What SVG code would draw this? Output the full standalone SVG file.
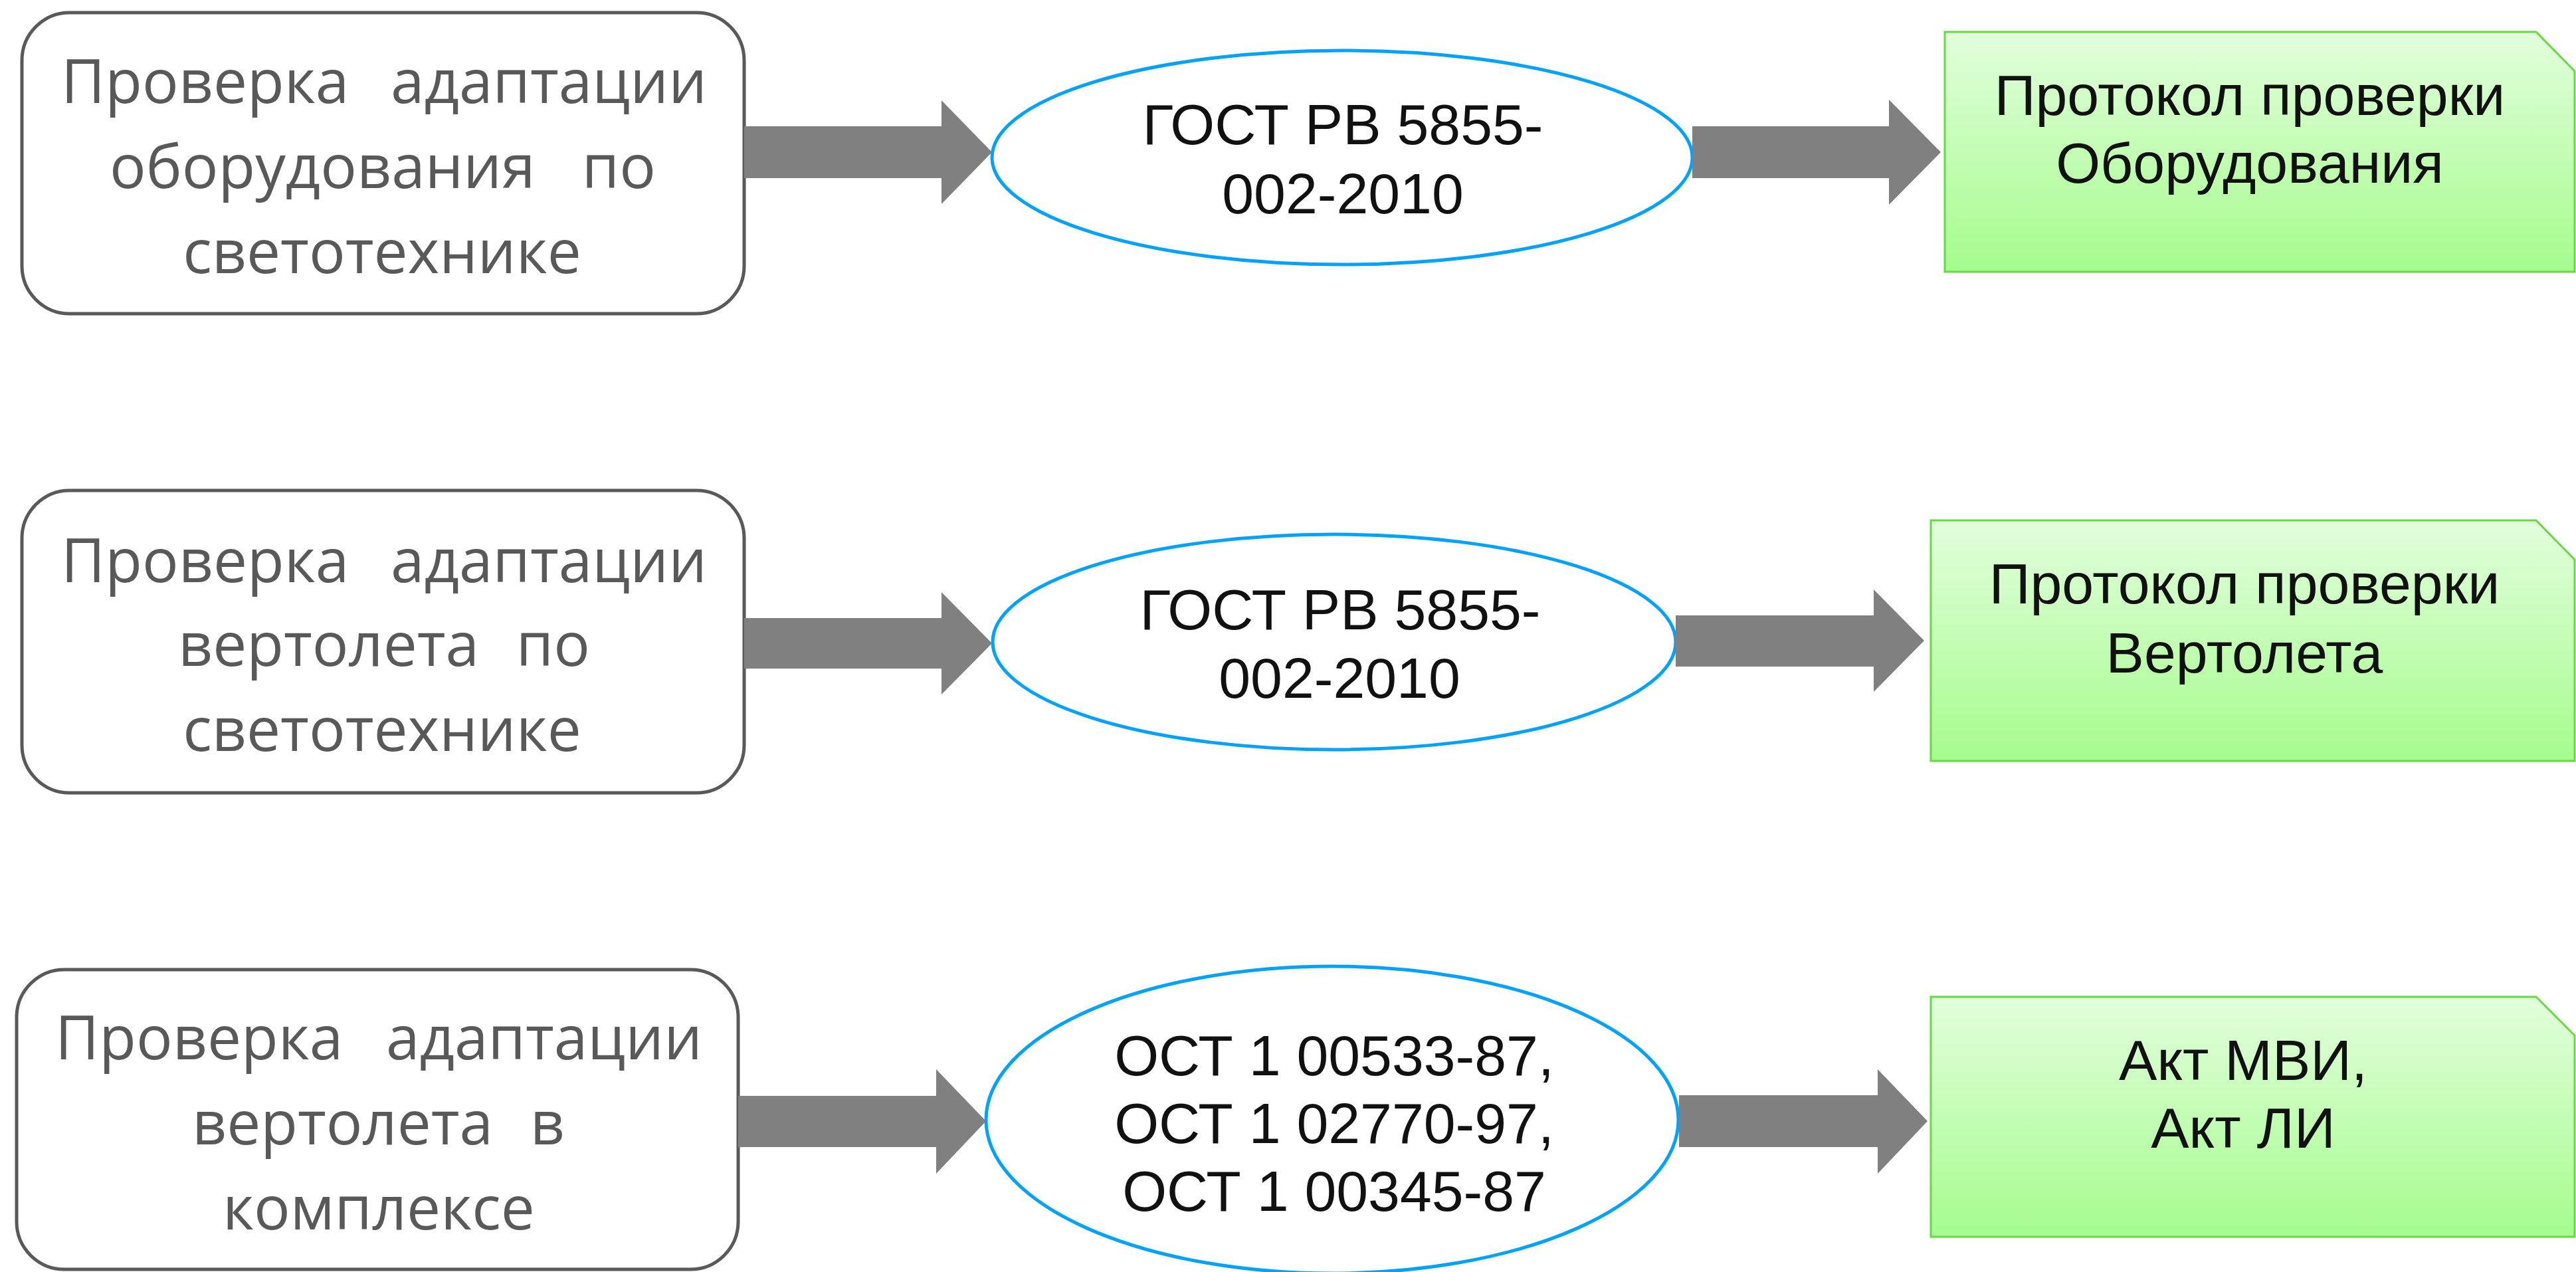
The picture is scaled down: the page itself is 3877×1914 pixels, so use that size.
<svg xmlns="http://www.w3.org/2000/svg" width="3877" height="1914" viewBox="0 0 3877 1914">
<defs>
<linearGradient id="g" x1="0" y1="0" x2="0" y2="1">
<stop offset="0" stop-color="#e2fedc"/>
<stop offset="1" stop-color="#a5fc8d"/>
</linearGradient>
</defs>
<style>
.box{fill:#ffffff;stroke:#595959;stroke-width:5}
.ell{fill:#ffffff;stroke:#00a2ff;stroke-width:5}
.doc{fill:url(#g);stroke:#66d944;stroke-width:3}
.arr{fill:#808080;stroke:none}
.lt{font-family:"Open Sans","DejaVu Sans",sans-serif;font-size:91px;fill:#595959}
.rt{font-family:"Liberation Sans",Arial,sans-serif;font-size:86px;fill:#111111;text-anchor:middle}
.s{text-anchor:start}.e{text-anchor:end}.m{text-anchor:middle}
</style>
<rect width="3877" height="1914" fill="#ffffff"/>

<g id="box1">
<rect class="box" x="33" y="19" width="1087" height="453" rx="72" ry="72"/>
<text class="lt s" x="92" y="155">Проверка</text>
<text class="lt e" x="1064" y="155">адаптации</text>
<text class="lt s" x="165" y="283">оборудования</text>
<text class="lt e" x="987" y="283">по</text>
<text class="lt m" x="575" y="411">светотехнике</text>
</g>
<g id="box2">
<rect class="box" x="33" y="738" width="1087" height="455" rx="72" ry="72"/>
<text class="lt s" x="92" y="876">Проверка</text>
<text class="lt e" x="1064" y="876">адаптации</text>
<text class="lt s" x="268" y="1002">вертолета</text>
<text class="lt e" x="888" y="1002">по</text>
<text class="lt m" x="575" y="1130">светотехнике</text>
</g>
<g id="box3">
<rect class="box" x="25" y="1459" width="1086" height="451" rx="72" ry="72"/>
<text class="lt s" x="83" y="1594">Проверка</text>
<text class="lt e" x="1057" y="1594">адаптации</text>
<text class="lt s" x="289" y="1722">вертолета</text>
<text class="lt e" x="850" y="1722">в</text>
<text class="lt m" x="570" y="1850">комплексе</text>
</g>

<g id="std1">
<ellipse class="ell" cx="2020" cy="237" rx="527" ry="161"/>
<text class="rt" x="2021" y="217">ГОСТ РВ 5855-</text>
<text class="rt" x="2021" y="321">002-2010</text>
</g>
<g id="std2">
<ellipse class="ell" cx="2008" cy="966" rx="514" ry="162"/>
<text class="rt" x="2017" y="947">ГОСТ РВ 5855-</text>
<text class="rt" x="2016" y="1050">002-2010</text>
</g>
<g id="std3">
<ellipse class="ell" cx="2005" cy="1685" rx="521" ry="231"/>
<text class="rt" x="2008" y="1618">ОСТ 1 00533-87,</text>
<text class="rt" x="2008" y="1720">ОСТ 1 02770-97,</text>
<text class="rt" x="2008" y="1822">ОСТ 1 00345-87</text>
</g>

<g id="doc1">
<path class="doc" d="M2927,48 L3817,48 L3875,107 L3875,409 L2927,409 Z"/>
<text class="rt" x="3386" y="173">Протокол проверки</text>
<text class="rt" x="3386" y="275">Оборудования</text>
</g>
<g id="doc2">
<path class="doc" d="M2906,783 L3817,783 L3875,842 L3875,1145 L2906,1145 Z"/>
<text class="rt" x="3378" y="908">Протокол проверки</text>
<text class="rt" x="3378" y="1012">Вертолета</text>
</g>
<g id="doc3">
<path class="doc" d="M2906,1500 L3817,1500 L3875,1558 L3875,1861 L2906,1861 Z"/>
<text class="rt" x="3376" y="1625">Акт МВИ,</text>
<text class="rt" x="3376" y="1727">Акт ЛИ</text>
</g>

<g id="connectors">
<polygon class="arr" points="1120,190 1417,190 1417,151 1493,229 1417,307 1417,268 1120,268"/>
<polygon class="arr" points="2547,190 2843,190 2843,150 2921,229 2843,308 2843,268 2547,268"/>
<polygon class="arr" points="1120,930 1417,930 1417,891 1493,968 1417,1045 1417,1006 1120,1006"/>
<polygon class="arr" points="2522,926 2820,926 2820,887 2896,964 2820,1041 2820,1003 2522,1003"/>
<polygon class="arr" points="1111,1649 1409,1649 1409,1609 1484,1687 1409,1766 1409,1726 1111,1726"/>
<polygon class="arr" points="2527,1648 2826,1648 2826,1609 2901,1687 2826,1766 2826,1726 2527,1726"/>
</g>
</svg>
